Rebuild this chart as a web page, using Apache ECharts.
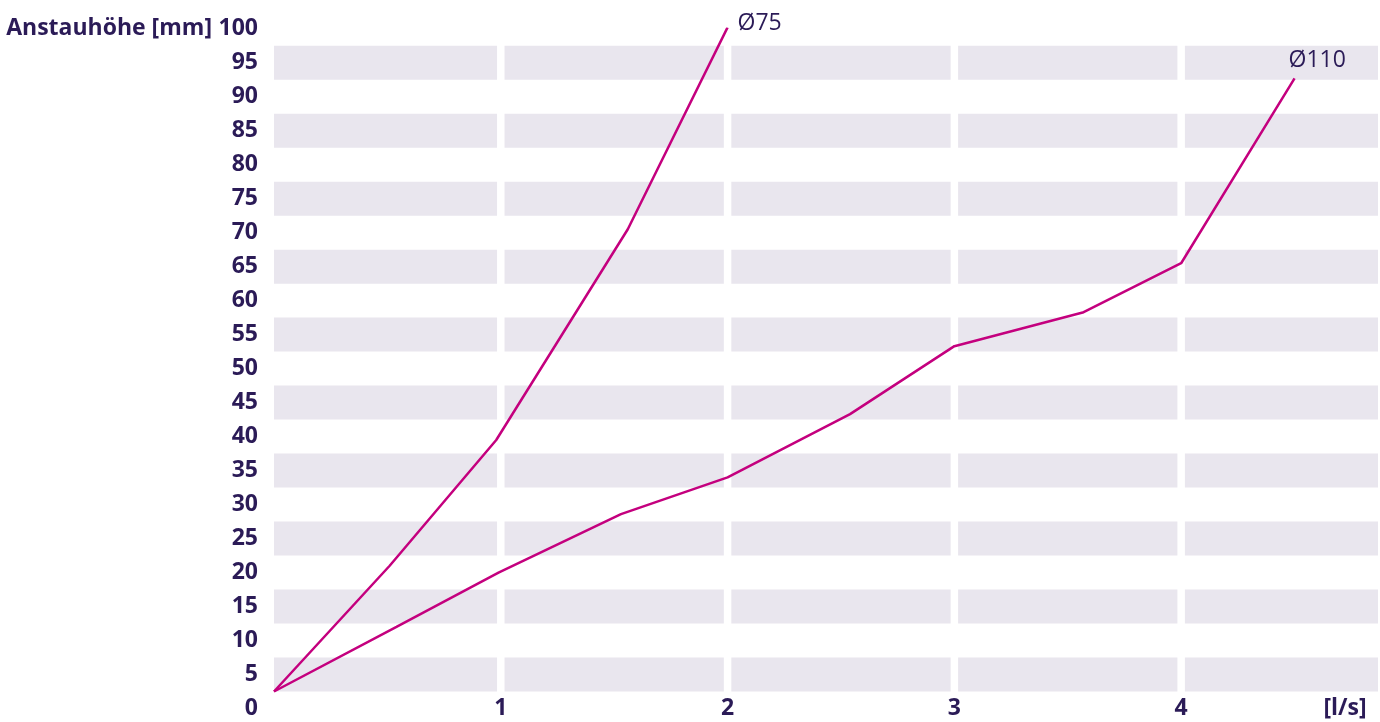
<!DOCTYPE html>
<html>
<head>
<meta charset="utf-8">
<script src="https://cdn.jsdelivr.net/npm/echarts@6/dist/echarts.min.js"></script>
<style>
  html, body { margin: 0; padding: 0; background: #fff; }
  #chart { width: 1380px; height: 722px; }
</style>
</head>
<body>
<div id="chart"></div>
<script>
// Durchfluss [l/s] vs. Anstauhöhe [mm]
const d75X = [0, 0.51, 0.98, 1.56, 2.0];
const d75Y = [2.5, 21, 39.5, 70.5, 100.2];
const d110X = [0, 0.54, 0.99, 1.53, 2.0, 2.54, 3.0, 3.57, 4.0, 4.5];
const d110Y = [2.5, 12, 20, 28.6, 34, 43.3, 53.3, 58.3, 65.5, 92.7];
const seriesNames = ["Ø75", "Ø110"];
const xTicks = [1, 2, 3, 4];
const yMax = 100;
const yStep = 5;
const xMax = 4.868;

const TEXT = "#2b1b57";
const LINE = "#c4007e";
const BAND = "#e9e6ee";
const FONT = "'Open Sans', sans-serif";
const GAP = 0.0165; // half the white gap at each integer x, in axis units

const chart = echarts.init(document.getElementById("chart"));

// grey bands centred on every other label (5, 15, ... 95), cut at each integer x
const xEdges = [0, ...xTicks, xMax];
const bands = [];
for (let v = yStep; v < yMax; v += 2 * yStep) {
  for (let i = 0; i < xEdges.length - 1; i++) {
    const x0 = i === 0 ? -0.004 : xEdges[i] + GAP;
    const x1 = i === xEdges.length - 2 ? xMax : xEdges[i + 1] - GAP;
    bands.push([{ xAxis: x0, yAxis: v - yStep / 2 }, { xAxis: x1, yAxis: v + yStep / 2 }]);
  }
}

const toPairs = (xs, ys) => xs.map((x, i) => [x, ys[i]]);

chart.setOption({
  animation: false,
  grid: { left: 274, right: 2, top: 28.7, bottom: 13.5 },
  xAxis: {
    type: "value",
    min: 0,
    max: xMax,
    interval: 1,
    name: "[l/s]",
    nameLocation: "end",
    nameGap: -33,
    nameTextStyle: { color: TEXT, fontSize: 23, fontWeight: "bold", fontFamily: FONT, align: "center", verticalAlign: "middle", padding: [3, 0, 0, 0] },
    axisLine: { show: false },
    axisTick: { show: false },
    splitLine: { show: false },
    axisLabel: {
      showMaxLabel: false,
      margin: 0,
      verticalAlign: "middle",
      padding: [3, 0, 0, 0],
      color: TEXT,
      fontSize: 23,
      fontWeight: "bold",
      fontFamily: FONT,
      formatter: (v) => (xTicks.includes(v) ? String(v) : ""),
    },
  },
  yAxis: {
    type: "value",
    min: 0,
    max: yMax,
    interval: yStep,
    name: "Anstauhöhe [mm]",
    nameLocation: "end",
    nameGap: 0,
    nameTextStyle: { color: TEXT, fontSize: 23, fontWeight: "bold", fontFamily: FONT, align: "right", verticalAlign: "middle", padding: [3, 62, 0, 0] },
    axisLine: { show: false },
    axisTick: { show: false },
    splitLine: { show: false },
    axisLabel: { margin: 16, padding: [3, 0, 0, 0], color: TEXT, fontSize: 23, fontWeight: "bold", fontFamily: FONT },
  },
  series: [
    {
      type: "line",
      data: [],
      z: 1,
      silent: true,
      markArea: { silent: true, itemStyle: { color: BAND }, data: bands },
    },
    {
      name: seriesNames[0],
      type: "line",
      z: 3,
      data: toPairs(d75X, d75Y),
      showSymbol: false,
      lineStyle: { color: LINE, width: 2.5 },
      endLabel: {
        show: true,
        formatter: seriesNames[0],
        distance: 0,
        offset: [10, -4],
        color: TEXT,
        fontSize: 23,
        fontFamily: FONT,
      },
    },
    {
      name: seriesNames[1],
      type: "line",
      z: 3,
      data: toPairs(d110X, d110Y),
      showSymbol: false,
      lineStyle: { color: LINE, width: 2.5 },
      endLabel: {
        show: true,
        formatter: seriesNames[1],
        distance: 0,
        offset: [-6, -18],
        color: TEXT,
        fontSize: 23,
        fontFamily: FONT,
      },
    },
  ],
});
</script>
</body>
</html>
